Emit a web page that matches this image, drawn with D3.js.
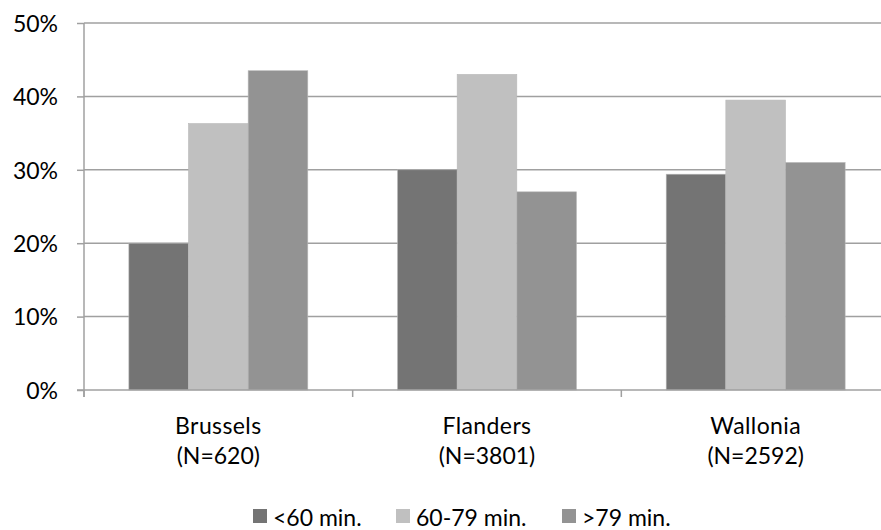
<!DOCTYPE html>
<html><head><meta charset="utf-8">
<script src="https://cdn.jsdelivr.net/npm/d3@7"></script>
<style>body{margin:0;background:#fff}svg{display:block}text{font-family:Lato,"Open Sans",sans-serif;fill:#000}</style>
</head><body><svg id="c" width="881" height="530"></svg>
<script>
const categories = ["Brussels", "Flanders", "Wallonia"];
const categorySub = ["(N=620)", "(N=3801)", "(N=2592)"];
const seriesNames = ["<60 min.", "60-79 min.", ">79 min."];
const seriesColors = ["#747474", "#c0c0c0", "#939393"];
const under60 = [20.0, 30.0, 29.4];
const from60to79 = [36.3, 43.0, 39.5];
const over79 = [43.5, 27.0, 31.0];
const yTicks = [0, 10, 20, 30, 40, 50];
const seriesValues = [under60, from60to79, over79];

const svg = d3.select("#c");
const x0 = d3.scaleBand().domain(categories).range([84, 890]).paddingInner(0).paddingOuter(0);
const x1 = d3.scaleBand().domain(d3.range(3))
  .range([x0.bandwidth()*0.167, x0.bandwidth()*0.833]).paddingInner(0).paddingOuter(0);
const y = d3.scaleLinear().domain([0, 50]).range([390, 23]);

// gridlines
svg.append("g").selectAll("line").data(yTicks.filter(d=>d>0)).join("line")
  .attr("x1", 84).attr("x2", 890).attr("y1", d=>y(d)).attr("y2", d=>y(d))
  .attr("stroke", "#a0a0a0").attr("stroke-width", 1.5);

// bars
categories.forEach((c, ci) => {
  seriesValues.forEach((vals, si) => {
    svg.append("rect")
      .attr("x", x0(c) + x1(si)).attr("width", x1.bandwidth())
      .attr("y", y(vals[ci])).attr("height", y(0) - y(vals[ci]))
      .attr("fill", seriesColors[si]).attr("stroke", "#b8b8b8").attr("stroke-width", 0.6);
  });
});

// y axis
const yAxis = d3.axisLeft(y).tickValues(yTicks).tickFormat(d=>d+"%").tickSize(7).tickPadding(19);
const gy = svg.append("g").attr("transform", "translate(84,0)").call(yAxis);
gy.select(".domain").attr("stroke", "#a0a0a0").attr("stroke-width", 1.5).attr("d", "M0,23V397");
gy.selectAll(".tick line").attr("stroke", "#a0a0a0").attr("stroke-width", 1.5);
gy.selectAll(".tick text").style("font-family", "Lato,'Open Sans',sans-serif").style("font-size", "23px").attr("fill", "#000").attr("dy", "0.36em");

// x axis
const gx = svg.append("g").attr("transform", "translate(0,390)");
gx.append("line").attr("x1", 77).attr("x2", 890).attr("stroke", "#a0a0a0").attr("stroke-width", 1.5);
gx.selectAll("line.t").data(categories).join("line").attr("class","t")
  .attr("x1", d=>x0(d)).attr("x2", d=>x0(d)).attr("y1", 0).attr("y2", 7)
  .attr("stroke", "#a0a0a0").attr("stroke-width", 1.5);
categories.forEach((c, i) => {
  const cx = x0(c) + x0.bandwidth()/2;
  svg.append("text").attr("x", cx).attr("y", 434).attr("text-anchor", "middle").style("font-size", "23px").style("letter-spacing", "0.4px").text(c);
  svg.append("text").attr("x", cx).attr("y", 464).attr("text-anchor", "middle").style("font-size", "23px").text(categorySub[i]);
});

// legend
const legX = [253, 396, 562];
seriesNames.forEach((s, i) => {
  svg.append("rect").attr("x", legX[i]).attr("y", 509).attr("width", 14).attr("height", 14).attr("fill", seriesColors[i]);
  svg.append("text").attr("x", legX[i] + 20).attr("y", 526).style("font-size", "23px").text(s);
});
</script></body></html>
